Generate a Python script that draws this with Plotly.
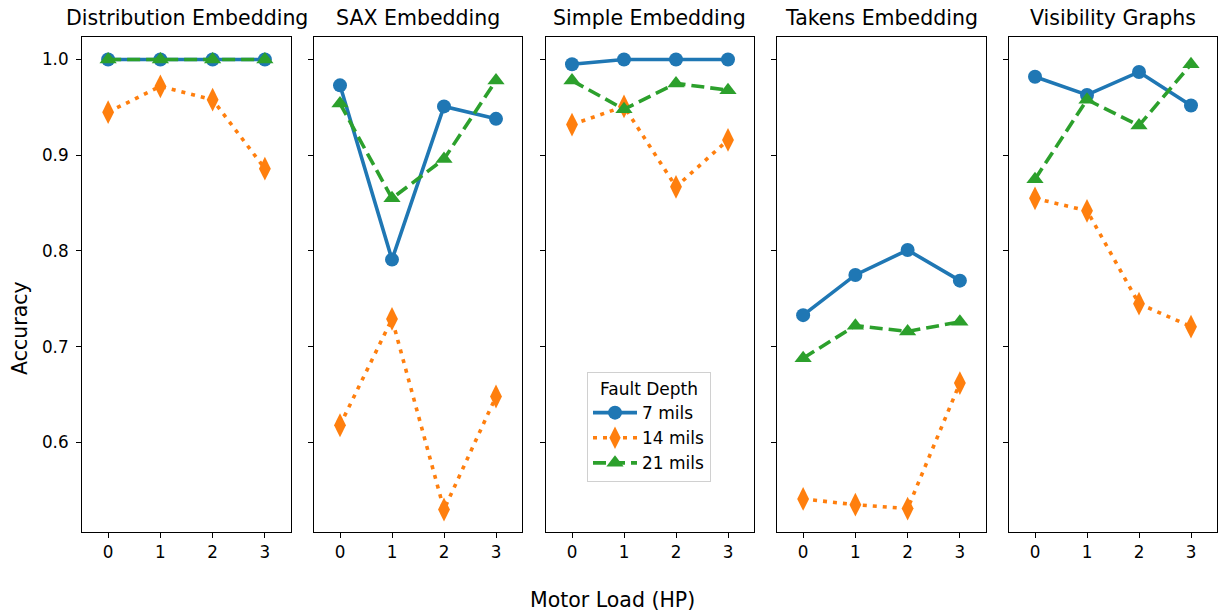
import plotly.graph_objects as go

# Accuracy per embedding method, by motor load (HP) and fault depth
motor_load = [0, 1, 2, 3]
methods = ["Distribution Embedding", "SAX Embedding", "Simple Embedding",
           "Takens Embedding", "Visibility Graphs"]
depth_labels = ["7 mils", "14 mils", "21 mils"]

acc_7 = {
    "Distribution Embedding": [1.0, 1.0, 1.0, 1.0],
    "SAX Embedding": [0.973, 0.791, 0.951, 0.938],
    "Simple Embedding": [0.995, 1.0, 1.0, 1.0],
    "Takens Embedding": [0.733, 0.775, 0.801, 0.769],
    "Visibility Graphs": [0.982, 0.963, 0.987, 0.952],
}
acc_14 = {
    "Distribution Embedding": [0.945, 0.972, 0.958, 0.886],
    "SAX Embedding": [0.618, 0.729, 0.530, 0.648],
    "Simple Embedding": [0.932, 0.951, 0.867, 0.916],
    "Takens Embedding": [0.541, 0.535, 0.531, 0.662],
    "Visibility Graphs": [0.855, 0.842, 0.745, 0.721],
}
acc_21 = {
    "Distribution Embedding": [1.0, 1.0, 1.0, 1.0],
    "SAX Embedding": [0.954, 0.855, 0.896, 0.978],
    "Simple Embedding": [0.978, 0.948, 0.975, 0.968],
    "Takens Embedding": [0.688, 0.722, 0.716, 0.726],
    "Visibility Graphs": [0.875, 0.958, 0.931, 0.995],
}
y_ticks = [0.6, 0.7, 0.8, 0.9, 1.0]

W, H = 1224, 616
ML, MR, MT, MB = 82, 7, 37, 84
PW = W - ML - MR
PH = H - MT - MB
panel_px = [(82, 291), (314, 522), (546, 754), (777, 986), (1009, 1217)]
domains = [((a - ML) / PW, (b - ML) / PW) for a, b in panel_px]

styles = [
    dict(color="#1f77b4", symbol="circle", size=14, dash="solid"),
    dict(color="#ff7f0e", symbol="diamond-tall", size=17, dash="4px,6px"),
    dict(color="#2ca02c", symbol="triangle-up", size=15, dash="13px,6px"),
]
series = [acc_7, acc_14, acc_21]

fig = go.Figure()
font = "DejaVu Sans, Arial, sans-serif"
TICK_FS = 16.8
TITLE_FS = 20.5
LABEL_FS = 20.5
LEG_FS = 17

for i, m in enumerate(methods):
    xa = "x" if i == 0 else f"x{i+1}"
    ya = "y" if i == 0 else f"y{i+1}"
    for j, (data, st) in enumerate(zip(series, styles)):
        fig.add_trace(go.Scatter(
            x=motor_load, y=data[m], xaxis=xa, yaxis=ya,
            mode="lines+markers", name=depth_labels[j],
            legendgroup=depth_labels[j], showlegend=(i == 0),
            line=dict(color=st["color"], width=3.6, dash=st["dash"]),
            marker=dict(color=st["color"], symbol=st["symbol"], size=st["size"],
                        line=dict(width=0)),
        ))
    d = domains[i]
    xkey = "xaxis" if i == 0 else f"xaxis{i+1}"
    ykey = "yaxis" if i == 0 else f"yaxis{i+1}"
    fig.layout[xkey] = dict(
        domain=list(d), anchor=ya, range=[-0.5, 3.5],
        tickvals=motor_load, ticktext=[str(v) for v in motor_load],
        ticks="outside", ticklen=5, tickwidth=1, tickcolor="black",
        showline=True, linecolor="black", linewidth=1, mirror=True,
        showgrid=False, zeroline=False,
        tickfont=dict(family=font, size=TICK_FS, color="black"),
    )
    fig.layout[ykey] = dict(
        domain=[0, 1], anchor=xa, range=[0.5065, 1.0235],
        tickvals=y_ticks, ticktext=[f"{v:.1f}" for v in y_ticks],
        showticklabels=(i == 0), ticklabelstandoff=4,
        ticks="outside", ticklen=5, tickwidth=1, tickcolor="black",
        showline=True, linecolor="black", linewidth=1, mirror=True,
        showgrid=False, zeroline=False,
        tickfont=dict(family=font, size=TICK_FS, color="black"),
    )
    fig.add_annotation(
        text=m, xref="paper", yref="paper", x=(d[0] + d[1]) / 2,
        y=1 + (MT - 18) / PH, xanchor="center", yanchor="middle",
        showarrow=False,
        font=dict(family=font, size=TITLE_FS, color="black"),
    )

# figure-level axis labels
fig.add_annotation(
    text="Motor Load (HP)", xref="paper", yref="paper",
    x=(W / 2 - ML) / PW, y=-(600 - (H - MB)) / PH,
    xanchor="center", yanchor="middle", showarrow=False,
    font=dict(family=font, size=LABEL_FS, color="black"),
)
fig.add_annotation(
    text="Accuracy", xref="paper", yref="paper",
    x=-(ML - 20) / PW, y=1 - (328 - MT) / PH, textangle=-90,
    xanchor="center", yanchor="middle", showarrow=False,
    font=dict(family=font, size=LABEL_FS, color="black"),
)

fig.update_layout(
    width=W, height=H,
    margin=dict(l=ML, r=MR, t=MT, b=MB),
    paper_bgcolor="white", plot_bgcolor="white",
    legend=dict(
        title=dict(text="Fault Depth", side="top center",
                   font=dict(family=font, size=LEG_FS, color="black")),
        font=dict(family=font, size=LEG_FS, color="black"),
        x=(587 - ML) / PW, y=1 - (372 - MT) / PH,
        xanchor="left", yanchor="top",
        bgcolor="rgba(255,255,255,0.8)", bordercolor="#d0d0d0", borderwidth=1,
        itemwidth=44, tracegroupgap=0,
    ),
)

fig.write_html("out.html")
